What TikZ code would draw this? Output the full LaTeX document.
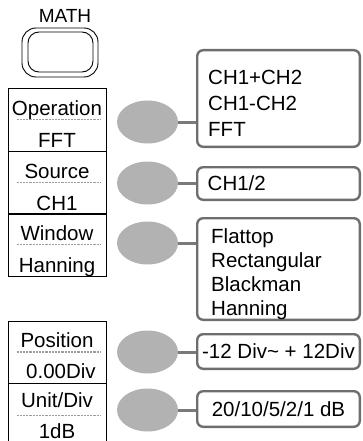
\documentclass[tikz,border=0pt]{standalone}
\usepackage{fontspec}
\setmainfont{Liberation Sans}
\usetikzlibrary{positioning, shapes.geometric}

\begin{document}
\begin{tikzpicture}[
  x=1pt, y=-1pt,
  font=\fontsize{20.5}{24}\selectfont,
  menu/.style={draw, line width=0.9pt, minimum width=98pt, minimum height=63pt, inner sep=0pt},
  lbl/.style={anchor=base, inner sep=0pt},
  sep/.style={draw=black!38, line width=1.6pt, dash pattern=on 2.2pt off 1pt},
  key/.style={ellipse, fill=black!30, draw=none, minimum width=61pt, minimum height=43pt, inner sep=0pt},
  choice/.style={draw=black!57, line width=2.4pt, rounded corners=6pt, minimum width=162.6pt, inner sep=0pt},
  items/.style={anchor=north west, align=left, inner sep=0pt},
  link/.style={draw=black!52, line width=3pt}
]
  \useasboundingbox (0,0) rectangle (362,441);

  % MATH button
  \node[lbl, font=\fontsize{19}{22}\selectfont] (mathlbl) at (65,23) {MATH};
  \node[draw, line width=0.9pt, rounded corners=14pt, minimum width=76pt, minimum height=49pt] (mathout) at (60,52.5) {};
  \node[draw, line width=0.9pt, rounded corners=11pt, minimum width=65pt, minimum height=40pt] (mathin) at (60.5,52) {};

  % soft menu
  \node[menu] (opbox) at (57,119.5) {};
  \node[menu] (srcbox) at (57,182.5) {};
  \node[menu] (winbox) at (57,244.5) {};
  \node[menu, minimum height=62pt] (posbox) at (57,352) {};
  \node[menu] (unitbox) at (57,414.5) {};

  \node[lbl] (optitle) at (57,115) {Operation};
  \node[lbl] (opval) at (57,147) {FFT};
  \node[lbl] (srctitle) at (57,178) {Source};
  \node[lbl] (srcval) at (57,210) {CH1};
  \node[lbl] (wintitle) at (57,240) {Window};
  \node[lbl] (winval) at (57,272) {Hanning};
  \node[lbl] (postitle) at (57,347) {Position};
  \node[lbl] (posval) at (61,378) {0.00Div};
  \node[lbl] (unittitle) at (57,407) {Unit/Div};
  \node[lbl] (unitval) at (57,438) {1dB};

  \draw[sep] ([xshift=9pt]opbox.west) -- ([xshift=-6pt]opbox.east);
  \draw[sep] ([xshift=9pt]srcbox.west) -- ([xshift=-6pt]srcbox.east);
  \draw[sep] ([xshift=9pt]winbox.west) -- ([xshift=-6pt]winbox.east);
  \draw[sep] ([xshift=9pt]posbox.west) -- ([xshift=-6pt]posbox.east);
  \draw[sep] ([xshift=9pt,yshift=-1pt]unitbox.west) -- ([xshift=-6pt,yshift=-1pt]unitbox.east);

  % keys
  \node[key] (opkey) at (147.5,122) {};
  \node[key] (srckey) at (147.5,183) {};
  \node[key] (winkey) at (147.5,243) {};
  \node[key] (poskey) at (147.5,352) {};
  \node[key] (unitkey) at (147.5,410) {};

  % choices
  \node[choice, minimum height=96.6pt] (opmenu) at (278.5,98.5) {};
  \node[items] (opitems) at (208,70) {CH1+CH2\\[2pt]CH1-CH2\\[2pt]FFT};
  \node[choice, minimum height=32.6pt, text width=141.6pt, inner xsep=10.5pt, align=left] (srcmenu) at (278.5,183.5) {CH1/2};
  \node[choice, minimum height=101.6pt] (winmenu) at (278.5,269) {};
  \node[items] (winitems) at (211,228) {Flattop\\Rectangular\\Blackman\\Hanning};
  \node[choice, minimum height=34.6pt] (posmenu) at (278.5,351.5) {-12 Div\textasciitilde{} + 12Div};
  \node[choice, minimum height=35.6pt] (unitmenu) at (278.5,409) {20/10/5/2/1 dB};

  \draw[link] (opkey.east) -- (opkey.east -| opmenu.west);
  \draw[link] (srckey.east) -- (srckey.east -| srcmenu.west);
  \draw[link] (winkey.east) -- (winkey.east -| winmenu.west);
  \draw[link] (poskey.east) -- (poskey.east -| posmenu.west);
  \draw[link] (unitkey.east) -- (unitkey.east -| unitmenu.west);
\end{tikzpicture}
\end{document}
